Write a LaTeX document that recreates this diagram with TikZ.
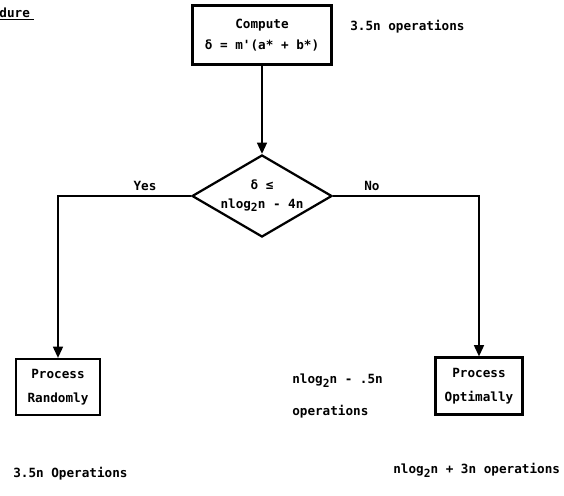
\documentclass[tikz,border=0pt]{standalone}
\usepackage{fontspec}
\setmonofont{DejaVu Sans Mono}
\usetikzlibrary{shapes.geometric,arrows.meta}
\newcommand{\subtwo}{\raisebox{-0.55ex}{\fontsize{8}{8}\selectfont 2}}
\begin{document}
\begin{tikzpicture}[
    every node/.style={font=\ttfamily\bfseries\fontsize{9}{11}\selectfont},
    stepbox/.style={rectangle,draw,line width=1.5pt,align=center,inner sep=0pt},
    decision/.style={diamond,draw,line width=1.6pt,align=center,inner sep=0pt,aspect=1.7},
    flow/.style={line width=1.4pt,-{Triangle[length=8pt,width=7pt]}},
    note/.style={anchor=west,inner sep=0pt,align=left}]
    \useasboundingbox (0,0) rectangle (14.1,12.4);

    \node(hd)[anchor=west,inner sep=0pt] at (-0.02,12.05) {\underline{dure\,\,}};

    \node(comp)[stepbox,minimum width=3.475cm,minimum height=1.475cm] at (6.55,11.525)
        {Compute\\[4pt]δ = m'(a* + b*)};
    \node(compcost)[note] at (8.75,11.725) {3.5n operations};

    \node(dec)[decision,minimum width=3.5cm,minimum height=2.05cm] at (6.55,7.5)
        {δ ≤\\[2pt]nlog\subtwo n - 4n};

    \node(rand)[stepbox,minimum width=2.1cm,minimum height=1.4cm] at (1.45,2.725)
        {Process\\[6pt]Randomly};
    \node(opt)[stepbox,minimum width=2.175cm,minimum height=1.425cm] at (11.975,2.75)
        {Process\\[6pt]Optimally};

    \node(yes)[inner sep=0pt] at (3.625,7.75) {Yes};
    \node(no)[inner sep=0pt] at (9.3,7.75) {No};

    \node(optcost)[note] at (7.3,2.5) {nlog\subtwo n - .5n\\[12pt]operations};
    \node(randtot)[note] at (0.325,0.55) {3.5n Operations};
    \node(opttot)[note] at (9.825,0.65) {nlog\subtwo n + 3n operations};

    \draw[flow] (comp) -- (dec);
    \draw[flow] (dec.west) -| (rand.north);
    \draw[flow] (dec.east) -| (opt.north);
\end{tikzpicture}
\end{document}
